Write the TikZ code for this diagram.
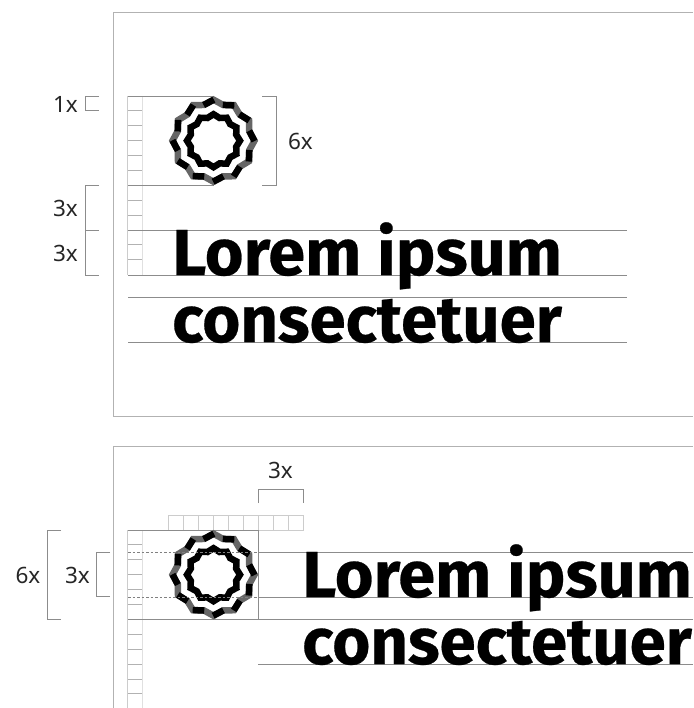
\documentclass[tikz,border=0pt]{standalone}
\usepackage{fontspec}
\setmainfont{Noto Sans}
\newfontfamily\headfont[BoldFeatures={FakeBold=0.4}]{Fira Sans}
\tikzset{x=1pt,y=-1pt,
 frame/.style={draw=black!30,line width=1pt},
 guide/.style={draw=black!45,line width=1pt},
 cell/.style={draw=black!30,line width=1pt},
 edge/.style={draw=black!20,line width=1pt},
 pale/.style={draw=black!12,line width=1pt},
 bracket/.style={draw=black!45,line width=1pt},
 dim/.style={font=\fontsize{22.5}{22.5}\selectfont,inner sep=0pt,text=black!85},
 head/.style={font=\headfont\bfseries\fontsize{65}{65}\selectfont,inner sep=0pt,anchor=base west,text=black},
 ringa/.style={line width=6.5pt,line join=miter,miter limit=10,draw=black!60},
 ringb/.style={line width=6.5pt,line cap=butt,draw=black}}
\newcommand{\badge}[2]{%
 \begin{scope}[shift={(#1,#2)}]
  \draw[ringa] (-90:41)
   \foreach \k in {1,...,23}{ -- ({-90+15*\k}:{mod(\k,2)==0 ? 41 : 37}) } -- cycle;
  \foreach \k in {1,3,...,23}{
   \draw[ringb] ({-90+15*\k-0.5}:37) -- ({-90+15*(\k+1)+0.5}:41);
  }
  \draw[line width=6.5pt,line join=miter,miter limit=10,draw=black] (-90:26.5)
   \foreach \k in {1,...,23}{ -- ({-90+15*\k}:{mod(\k,2)==0 ? 26.5 : 23.5}) } -- cycle;
 \end{scope}}
\begin{document}
\begin{tikzpicture}
\useasboundingbox (0,0) rectangle (693,708);
% frames
\draw[frame] (693,12.5) -- (113.5,12.5) -- (113.5,416.5) -- (693,416.5);
\draw[frame] (693,446.5) -- (113.5,446.5) -- (113.5,708);
% top figure grid
\draw[pale] (142,96) -- (142,275);
\draw[edge] (127.5,96) -- (127.5,275);
\foreach \k in {1,...,11}{ \draw[cell] (128,{96+14.9*\k}) -- (142,{96+14.9*\k}); }
\draw[guide] (128,96.5) -- (214,96.5);
\draw[guide] (128,185.5) -- (214,185.5);
\foreach \yy in {230.5,275.5,297.5,342.5}{ \draw[guide] (128,\yy) -- (627,\yy); }
% top brackets
\draw[bracket] (99,96.5) -- (85,96.5) -- (85,111) -- (99,111);
\draw[bracket] (99,185.5) -- (85,185.5) -- (85,230.5) -- (99,230.5);
\draw[bracket] (85,230.5) -- (85,275.5) -- (99,275.5);
\draw[bracket] (262,96.5) -- (276,96.5) -- (276,185.5) -- (262,185.5);
\node[dim] (l1) at (65.5,104.5) {1x};
\node[dim] (l2) at (65.5,208.5) {3x};
\node[dim] (l3) at (65.5,253) {3x};
\node[dim] (l4) at (300.5,141.5) {6x};
\badge{213.5}{140.7}
\node[head,xscale=1.024] (t1) at (172,275) {Lorem ipsum};
\node[head,xscale=1.005] (t2) at (172,342) {consectetuer};
% bottom figure grid
\draw[pale] (142,530) -- (142,708);
\draw[edge] (127.5,530) -- (127.5,708);
\foreach \k in {1,...,11}{ \draw[cell] (128,{530+14.9*\k}) -- (142,{530+14.9*\k}); }
\draw[edge] (168,515) rectangle (303,530);
\foreach \k in {1,...,8}{ \draw[edge] ({168+15*\k},515) -- ({168+15*\k},530); }
\draw[guide] (128,530.5) -- (258.5,530.5) -- (258.5,619.5);
\draw[guide] (128,619.5) -- (693,619.5);
\foreach \yy in {552.5,597.5}{ \draw[guide] (258,\yy) -- (693,\yy); }
\draw[guide] (258,664.5) -- (693,664.5);
% bottom brackets
\draw[bracket] (61,530) -- (47,530) -- (47,619.5) -- (61,619.5);
\draw[bracket] (110,552) -- (96.5,552) -- (96.5,596.5) -- (110,596.5);
\draw[bracket] (258.5,503) -- (258.5,489) -- (303,489) -- (303,503);
\node[dim] (l5) at (28,575.5) {6x};
\node[dim] (l6) at (77.5,575.5) {3x};
\node[dim] (l7) at (280.5,470.5) {3x};
\badge{213.5}{574.7}
\foreach \yy in {552.5,597}{ \draw[draw=black!50,line width=0.8pt,dash pattern=on 2.5pt off 2pt] (128,\yy) -- (258,\yy); }
\node[head,xscale=1.024] (t3) at (302,597) {Lorem ipsum};
\node[head,xscale=1.005] (t4) at (302,664) {consectetuer};
\end{tikzpicture}
\end{document}
